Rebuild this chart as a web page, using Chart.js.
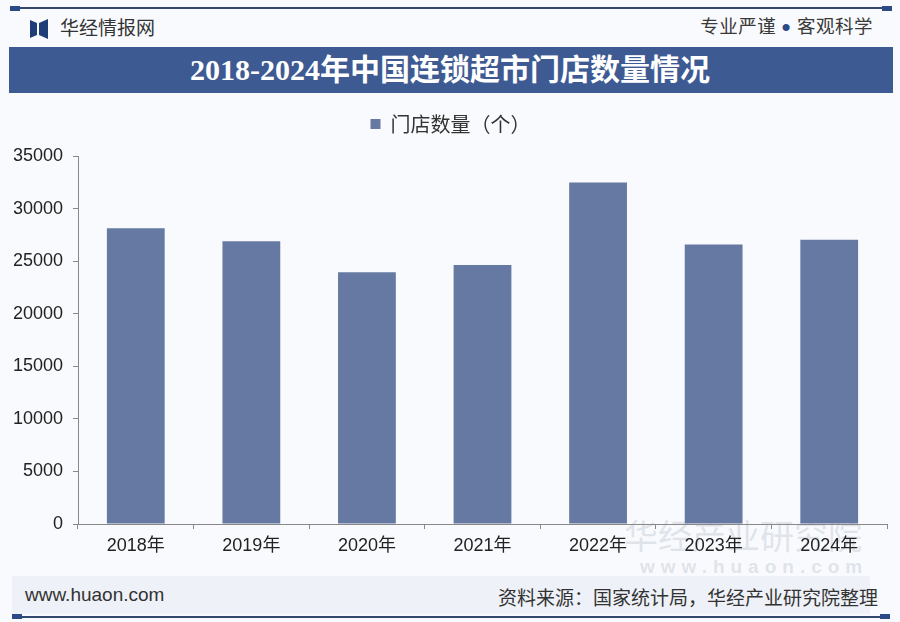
<!DOCTYPE html>
<html>
<head>
<meta charset="utf-8">
<script src="https://cdn.jsdelivr.net/npm/chart.js@4/dist/chart.umd.min.js"></script>
<style>
  html, body { margin: 0; padding: 0; }
  body { width: 900px; height: 622px; position: relative; overflow: hidden; background: #f9fafd;
         font-family: "Noto Sans CJK SC", "Liberation Sans", sans-serif; }
  .abs { position: absolute; }
  .rule { height: 2px; background: #34476f; }
  .cap { width: 10px; height: 5px; background: #2b4a86; }
  #brand { left: 60px; top: 14px; font-size: 19px; color: #333; line-height: 26px; }
  #motto { right: 27px; top: 12px; font-size: 18.5px; color: #3a3a3a; letter-spacing: 0.5px; line-height: 26px; }
  #motto .dot { color: #2b4a86; font-family: "Liberation Sans", sans-serif; font-size: 26px; line-height: 0;
                margin: 0 6px 0 5px; vertical-align: -3px; }
  #band { left: 9px; top: 47px; width: 884px; height: 46px; background: #3e5a93; }
  #title { left: 0; top: 47px; width: 900px; text-align: center; line-height: 46px; color: #fff;
           font-size: 30px; font-weight: bold; font-family: "Liberation Serif", "Noto Sans CJK SC", serif; }
  #foot { left: 12px; top: 576px; width: 858px; height: 38px; background: #eef1f7; }
  #site { left: 25px; top: 584px; font-size: 19px; color: #333; font-family: "Liberation Sans", sans-serif; }
  #src { right: 22px; top: 583px; font-size: 19px; color: #333; }
  #wm1 { left: 624px; top: 510px; font-size: 34px; color: rgba(175,185,200,0.35); }
  #wm2 { left: 640px; top: 556px; font-size: 19px; color: rgba(175,185,200,0.35); letter-spacing: 6px;
         font-family: "Liberation Sans", sans-serif; font-weight: bold; }
  canvas { position: absolute; left: 0; top: 0; }
</style>
</head>
<body>
<div class="abs rule" style="left:12px; top:7px; width:876px;"></div>
<div class="abs cap" style="left:10px; top:6px;"></div>
<div class="abs cap" style="left:882px; top:6px;"></div>
<svg class="abs" style="left:30px; top:19px;" width="20" height="20" viewBox="0 0 20 20">
  <polygon points="0,1 7,4 7,16 0,19" fill="#1f3e78"/>
  <polygon points="9,4 18,0 18,20 9,16" fill="#1f3e78"/>
</svg>
<div class="abs" id="brand">华经情报网</div>
<div class="abs" id="motto">专业严谨<span class="dot">•</span>客观科学</div>
<div class="abs" id="band"></div>
<div class="abs" id="title">2018-2024年中国连锁超市门店数量情况</div>
<div class="abs" id="wm1">华经产业研究院</div>
<div class="abs" id="wm2">www.huaon.com</div>
<div class="abs" id="foot"></div>
<div class="abs" id="site">www.huaon.com</div>
<div class="abs" id="src">资料来源：国家统计局，华经产业研究院整理</div>
<div class="abs rule" style="left:12px; top:616px; width:876px;"></div>
<div class="abs cap" style="left:12px; top:614px;"></div>
<div class="abs cap" style="left:880px; top:614px;"></div>
<canvas id="c" width="900" height="622"></canvas>
<script>
// data
const years = ['2018年', '2019年', '2020年', '2021年', '2022年', '2023年', '2024年'];
const storeCounts = [28150, 26900, 23950, 24650, 32500, 26600, 27050];
const seriesName = '门店数量（个）';
const yMax = 35000;
const yStep = 5000;

const tickFont = { family: '"Liberation Sans", "Noto Sans CJK SC", sans-serif', size: 18 };

new Chart(document.getElementById('c'), {
  type: 'bar',
  data: {
    labels: years,
    datasets: [{
      label: seriesName,
      data: storeCounts,
      backgroundColor: '#6679a3',
      borderWidth: 0,
      categoryPercentage: 1,
      barPercentage: 0.5
    }]
  },
  options: {
    responsive: false,
    animation: false,
    devicePixelRatio: 1,
    layout: { padding: { top: 93, right: 13, bottom: 52, left: 14 } },
    plugins: {
      legend: {
        display: true,
        position: 'top',
        labels: {
          boxWidth: 10,
          boxHeight: 10,
          padding: 21,
          color: '#333',
          font: { family: '"Noto Sans CJK SC", sans-serif', size: 20 }
        }
      },
      // empty subtitle used as a spacer between legend and plot
      subtitle: {
        display: true,
        text: '',
        weight: 500,
        font: { size: 1 },
        padding: { top: 0, bottom: 11 }
      },
      tooltip: { enabled: false }
    },
    scales: {
      x: {
        grid: { display: true, drawOnChartArea: false, drawTicks: true, tickLength: 5, color: '#888' },
        border: { display: true, color: '#888', width: 1 },
        ticks: { color: '#222', font: tickFont, padding: 6 },
        afterFit(scale) { scale.height = 46; }
      },
      y: {
        min: 0,
        max: yMax,
        grid: { display: true, drawOnChartArea: false, drawTicks: true, tickLength: 5, color: '#888' },
        border: { display: true, color: '#888', width: 1 },
        ticks: { stepSize: yStep, color: '#222', font: tickFont, padding: 10,
                 callback: v => String(v) },
        afterFit(scale) { scale.width = 64; }
      }
    }
  }
});
</script>
</body>
</html>
